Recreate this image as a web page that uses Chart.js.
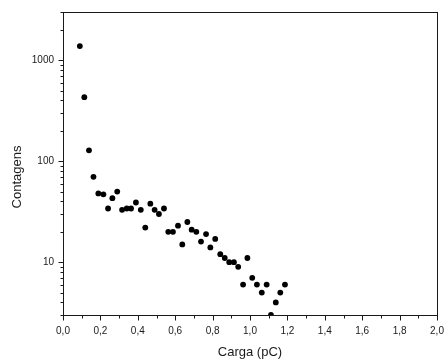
<!DOCTYPE html>
<html>
<head>
<meta charset="utf-8">
<script src="https://cdn.jsdelivr.net/npm/chart.js@4"></script>
<style>
  html, body { margin: 0; padding: 0; background: #fff; }
  #wrap { width: 446px; height: 364px; position: relative; }
</style>
</head>
<body>
<div id="wrap"><canvas id="chargeChart"></canvas></div>
<script>
// valeurs (carga em pC, contagens)
const carga = [0.090, 0.114, 0.139, 0.163, 0.189, 0.216, 0.241, 0.264, 0.290, 0.316,
  0.341, 0.364, 0.390, 0.416, 0.440, 0.467, 0.490, 0.513, 0.540, 0.563,
  0.588, 0.615, 0.638, 0.665, 0.688, 0.713, 0.738, 0.765, 0.788, 0.814,
  0.841, 0.865, 0.889, 0.914, 0.937, 0.963, 0.986, 1.012, 1.037, 1.063,
  1.089, 1.112, 1.138, 1.162, 1.187];
const contagens = [1380, 430, 128, 70, 48, 47, 34, 43, 50, 33,
  34, 34, 39, 33, 22, 38, 33, 30, 34, 20,
  20, 23, 15, 25, 21, 20, 16, 19, 14, 17,
  12, 11, 10, 10, 9, 6, 11, 7, 6, 5,
  6, 3, 4, 5, 6];

const xMajorTicks = [0, 0.2, 0.4, 0.6, 0.8, 1.0, 1.2, 1.4, 1.6, 1.8, 2.0];
const xMinorTicks = [0.1, 0.3, 0.5, 0.7, 0.9, 1.1, 1.3, 1.5, 1.7, 1.9];
const yMajorTicks = [10, 100, 1000];
const yMinorTicks = [3, 4, 5, 6, 7, 8, 9, 20, 30, 40, 50, 60, 70, 80, 90,
  200, 300, 400, 500, 600, 700, 800, 900, 2000, 3000];

const xTitle = 'Carga (pC)';
const yTitle = 'Contagens';

const INK = '#1a1a1a';
const FONT = '"Liberation Sans", Arial, sans-serif';

// cadre + graduations (majeures et mineures) dessinés via les échelles
const frameTicks = {
  id: 'frameTicks',
  afterDraw(chart) {
    const { ctx, chartArea: a, scales } = chart;
    const xs = scales.x, ys = scales.y;
    ctx.save();
    ctx.strokeStyle = INK;
    ctx.lineWidth = 1;
    ctx.strokeRect(a.left + 0.5, a.top + 0.5, a.right - a.left, a.bottom - a.top);
    ctx.beginPath();
    const xTick = (v, len) => {
      const px = Math.round(xs.getPixelForValue(v)) + 0.5;
      ctx.moveTo(px, a.bottom + 0.5);
      ctx.lineTo(px, a.bottom + 0.5 + len);
    };
    const yTick = (v, len) => {
      const py = Math.round(ys.getPixelForValue(v)) + 0.5;
      ctx.moveTo(a.left + 0.5, py);
      ctx.lineTo(a.left + 0.5 - len, py);
    };
    xMajorTicks.forEach(v => xTick(v, 5));
    xMinorTicks.forEach(v => xTick(v, 3));
    yMajorTicks.forEach(v => yTick(v, 5));
    yMinorTicks.forEach(v => yTick(v, 3));
    ctx.stroke();

    // titre de l'axe y
    ctx.fillStyle = INK;
    ctx.font = '13px ' + FONT;
    ctx.textAlign = 'center';
    ctx.textBaseline = 'middle';
    ctx.translate(17.5, 177);
    ctx.rotate(-Math.PI / 2);
    ctx.fillText(yTitle, 0, 0);
    ctx.restore();
  }
};

const points = carga.map((c, i) => ({ x: c, y: contagens[i] }));

new Chart(document.getElementById('chargeChart'), {
  type: 'scatter',
  data: {
    datasets: [{
      data: points,
      backgroundColor: '#000',
      borderWidth: 0,
      pointRadius: 2.9,
      pointHoverRadius: 2.9,
      clip: 0
    }]
  },
  options: {
    responsive: true,
    maintainAspectRatio: false,
    animation: false,
    events: [],
    layout: { padding: { top: 12, right: 9, left: 0, bottom: 0 } },
    plugins: {
      legend: { display: false },
      tooltip: { enabled: false }
    },
    scales: {
      x: {
        type: 'linear',
        min: 0,
        max: 2,
        afterFit: s => {
          s.height = 49;
          s.paddingLeft = 0; s.paddingRight = 0;
        },
        afterBuildTicks: s => { s.ticks = xMajorTicks.map(v => ({ value: v })); },
        grid: { display: false, drawTicks: false },
        border: { display: false },
        ticks: {
          padding: 10,
          color: INK,
          font: { family: FONT, size: 10 },
          maxRotation: 0,
          autoSkip: false,
          callback: v => v.toFixed(1).replace('.', ',')
        },
        title: {
          display: true,
          text: xTitle,
          color: INK,
          font: { family: FONT, size: 13 },
          padding: { top: 0, bottom: 4 }
        }
      },
      y: {
        type: 'logarithmic',
        min: 3,
        max: 3000,
        afterFit: s => {
          s.width = 63;
          s.paddingTop = 0; s.paddingBottom = 0;
        },
        afterBuildTicks: s => { s.ticks = yMajorTicks.map(v => ({ value: v })); },
        grid: { display: false, drawTicks: false },
        border: { display: false },
        ticks: {
          padding: 9,
          color: INK,
          font: { family: FONT, size: 10 },
          autoSkip: false,
          callback: v => String(v)
        },
        title: { display: false }
      }
    }
  },
  plugins: [frameTicks]
});
</script>
</body>
</html>
